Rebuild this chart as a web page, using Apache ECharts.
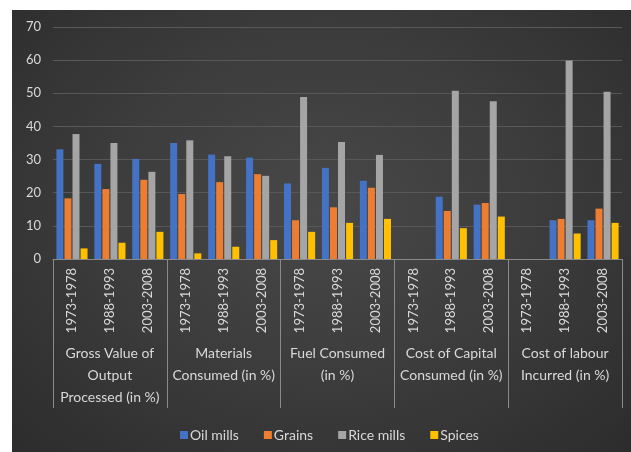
<!DOCTYPE html>
<html>
<head>
<meta charset="utf-8">
<script src="https://cdn.jsdelivr.net/npm/echarts@6/dist/echarts.min.js"></script>
<style>
  html, body { margin: 0; padding: 0; background: #ffffff; }
  #bg { position: absolute; left: 12px; top: 10px; width: 619px; height: 442px;
        background: radial-gradient(ellipse at 50% 45%, #484848 0%, #3c3c3c 50%, #2c2c2c 100%); }
  #chart { position: absolute; left: 0; top: 0; width: 631px; height: 452px; }
</style>
</head>
<body>
<div id="bg"></div>
<div id="chart"></div>
<script>
// Period labels (inner category level)
var periods = ['1973-1978', '1988-1993', '2003-2008',
               '1973-1978', '1988-1993', '2003-2008',
               '1973-1978', '1988-1993', '2003-2008',
               '1973-1978', '1988-1993', '2003-2008',
               '1973-1978', '1988-1993', '2003-2008'];
// Group labels (outer category level)
var groups = ['Gross Value of\nOutput\nProcessed (in %)',
              'Materials\nConsumed (in %)',
              'Fuel Consumed\n(in %)',
              'Cost of Capital\nConsumed (in %)',
              'Cost of labour\nIncurred (in %)'];
var seriesNames = ['Oil mills', 'Grains', 'Rice mills', 'Spices'];
var oilMills  = [33.1, 28.7, 30.2, 35.0, 31.5, 30.6, 22.8, 27.5, 23.6, null, 18.8, 16.4, null, 11.7, 11.7];
var grains    = [18.3, 21.1, 23.9, 19.6, 23.2, 25.6, 11.7, 15.6, 21.5, null, 14.5, 16.9, null, 12.1, 15.2];
var riceMills = [37.7, 35.0, 26.3, 35.8, 31.0, 25.1, 48.9, 35.3, 31.4, null, 50.8, 47.6, null, 59.9, 50.5];
var spices    = [3.2, 4.9, 8.2, 1.7, 3.7, 5.7, 8.2, 10.9, 12.1, null, 9.3, 12.8, null, 7.7, 10.9];
var yTicks = [0, 10, 20, 30, 40, 50, 60, 70];

var colors = ['#4472c4', '#ed7d31', '#a5a5a5', '#ffc000'];
var values = [oilMills, grains, riceMills, spices];
var font = 'Lato, "Liberation Sans", sans-serif';
var txt = '#d9d9d9';

var chart = echarts.init(document.getElementById('chart'), null, { renderer: 'canvas' });
chart.setOption({
  backgroundColor: 'transparent',
  animation: false,
  color: colors,
  textStyle: { fontFamily: font },
  grid: { left: 53, right: 9, top: 27, bottom: 193, containLabel: false },
  legend: {
    data: seriesNames,
    left: 175, top: 423,
    icon: 'rect', itemWidth: 8, itemHeight: 8, itemGap: 25,
    textStyle: { color: txt, fontSize: 14, fontFamily: font, padding: [0, 0, 0, -3] }
  },
  xAxis: [
    {
      type: 'category', data: periods, position: 'bottom',
      axisLine: { show: true, lineStyle: { color: '#8a8a8a', width: 1 } },
      axisTick: { show: false },
      axisLabel: { rotate: 90, color: txt, fontSize: 13, margin: 9, fontFamily: font, interval: 0 }
    },
    {
      type: 'category', data: groups, position: 'bottom', offset: 0,
      axisLine: { show: false },
      axisTick: { show: true, length: 149, interval: 0, lineStyle: { color: '#8a8a8a', width: 1 } },
      axisLabel: { color: txt, fontSize: 14, margin: 83, lineHeight: 22, interval: 0, fontFamily: font, verticalAlign: 'top' }
    }
  ],
  yAxis: {
    type: 'value', min: yTicks[0], max: yTicks[yTicks.length - 1], interval: 10,
    axisLine: { show: false }, axisTick: { show: false },
    axisLabel: { color: txt, fontSize: 13, margin: 12, fontFamily: font },
    splitLine: { lineStyle: { color: '#585858', width: 1 } }
  },
  series: seriesNames.map(function (n, i) {
    return {
      name: n, type: 'bar', xAxisIndex: 0, data: values[i],
      barWidth: 7, barGap: '15%',
      itemStyle: { color: colors[i] }
    };
  })
});
</script>
</body>
</html>
